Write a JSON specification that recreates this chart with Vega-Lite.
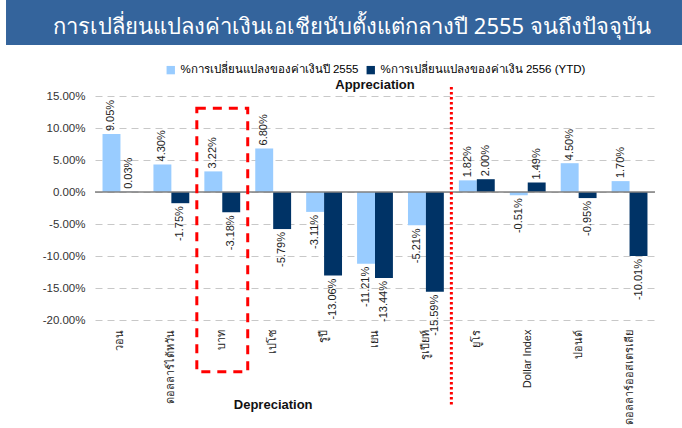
{
  "$schema": "https://vega.github.io/schema/vega-lite/v6.json",
  "background": "white",
  "autosize": "none",
  "width": 560,
  "height": 224,
  "padding": {"left": 95, "top": 96, "right": 27, "bottom": 108},
  "config": {
    "font": "Liberation Sans",
    "view": {"stroke": null},
    "legend": {"layout": {"top": {"anchor": "middle"}}},
    "locale": {"number": {"decimal": ".", "thousands": ",", "grouping": [3], "currency": ["", ""], "minus": "-", "percent": "%"}},
    "axisY": {"tickCount": 8, "domain": false, "ticks": false, "grid": true, "gridDash": [7, 5], "gridColor": "#C8C8C8", "labelFontSize": 11.5, "labelPadding": 10, "labelColor": "#333", "title": null},
    "axisX": {"domain": false, "ticks": false, "grid": false, "labelAngle": -90, "labelFontSize": 11, "labelPadding": 9, "labelColor": "#222", "labelLimit": 200, "title": null}
  },
  "data": {
    "values": [
      {"currency": "วอน", "series": "%การเปลี่ยนแปลงของค่าเงินปี 2555", "value": 0.0905},
      {"currency": "วอน", "series": "%การเปลี่ยนแปลงของค่าเงิน 2556 (YTD)", "value": 0.0003},
      {"currency": "ดอลลาร์ไต้หวัน", "series": "%การเปลี่ยนแปลงของค่าเงินปี 2555", "value": 0.0430},
      {"currency": "ดอลลาร์ไต้หวัน", "series": "%การเปลี่ยนแปลงของค่าเงิน 2556 (YTD)", "value": -0.0175},
      {"currency": "บาท", "series": "%การเปลี่ยนแปลงของค่าเงินปี 2555", "value": 0.0322},
      {"currency": "บาท", "series": "%การเปลี่ยนแปลงของค่าเงิน 2556 (YTD)", "value": -0.0318},
      {"currency": "เปโซ", "series": "%การเปลี่ยนแปลงของค่าเงินปี 2555", "value": 0.0680},
      {"currency": "เปโซ", "series": "%การเปลี่ยนแปลงของค่าเงิน 2556 (YTD)", "value": -0.0579},
      {"currency": "รูปี", "series": "%การเปลี่ยนแปลงของค่าเงินปี 2555", "value": -0.0311},
      {"currency": "รูปี", "series": "%การเปลี่ยนแปลงของค่าเงิน 2556 (YTD)", "value": -0.1306},
      {"currency": "เยน", "series": "%การเปลี่ยนแปลงของค่าเงินปี 2555", "value": -0.1121},
      {"currency": "เยน", "series": "%การเปลี่ยนแปลงของค่าเงิน 2556 (YTD)", "value": -0.1344},
      {"currency": "รูเปียห์", "series": "%การเปลี่ยนแปลงของค่าเงินปี 2555", "value": -0.0521},
      {"currency": "รูเปียห์", "series": "%การเปลี่ยนแปลงของค่าเงิน 2556 (YTD)", "value": -0.1559},
      {"currency": "ยูโร", "series": "%การเปลี่ยนแปลงของค่าเงินปี 2555", "value": 0.0182},
      {"currency": "ยูโร", "series": "%การเปลี่ยนแปลงของค่าเงิน 2556 (YTD)", "value": 0.0200},
      {"currency": "Dollar Index", "series": "%การเปลี่ยนแปลงของค่าเงินปี 2555", "value": -0.0051},
      {"currency": "Dollar Index", "series": "%การเปลี่ยนแปลงของค่าเงิน 2556 (YTD)", "value": 0.0149},
      {"currency": "ปอนด์", "series": "%การเปลี่ยนแปลงของค่าเงินปี 2555", "value": 0.0450},
      {"currency": "ปอนด์", "series": "%การเปลี่ยนแปลงของค่าเงิน 2556 (YTD)", "value": -0.0095},
      {"currency": "ดอลลาร์ออสเตรเลีย", "series": "%การเปลี่ยนแปลงของค่าเงินปี 2555", "value": 0.0170},
      {"currency": "ดอลลาร์ออสเตรเลีย", "series": "%การเปลี่ยนแปลงของค่าเงิน 2556 (YTD)", "value": -0.1001}
    ]
  },
  "resolve": {"scale": {"x": "independent"}},
  "layer": [
    {
      "layer": [
        {
          "mark": {"type": "bar"},
          "encoding": {
            "x": {
              "field": "currency", "type": "nominal", "sort": null,
              "scale": {"domain": ["วอน", "ดอลลาร์ไต้หวัน", "บาท", "เปโซ", "รูปี", "เยน", "รูเปียห์", "ยูโร", "Dollar Index", "ปอนด์", "ดอลลาร์ออสเตรเลีย"], "paddingInner": 0, "paddingOuter": 0},
              "axis": {"title": null}
            },
            "y": {
              "field": "value", "type": "quantitative",
              "scale": {"domain": [-0.2, 0.15], "nice": false},
              "axis": {"title": null, "format": ".2%", "tickCount": 8}
            },
            "xOffset": {"field": "series", "sort": null, "scale": {"domain": ["%การเปลี่ยนแปลงของค่าเงินปี 2555", "%การเปลี่ยนแปลงของค่าเงิน 2556 (YTD)"], "paddingOuter": 0.42, "paddingInner": 0}},
            "color": {
              "field": "series", "type": "nominal", "sort": null,
              "scale": {"domain": ["%การเปลี่ยนแปลงของค่าเงินปี 2555", "%การเปลี่ยนแปลงของค่าเงิน 2556 (YTD)"], "range": ["#99CCFF", "#003366"]},
              "legend": {"orient": "top", "title": null, "direction": "horizontal", "symbolType": "square", "symbolSize": 70, "symbolStrokeWidth": 0, "labelFontSize": 11.5, "labelLimit": 300, "columnPadding": 6, "offset": 20}
            }
          }
        },
        {
          "transform": [{"aggregate": [{"op": "count", "as": "n"}]}],
          "mark": {"type": "rule", "color": "#808080", "strokeWidth": 1.5},
          "encoding": {"y": {"datum": 0}}
        },
        {
          "transform": [{"filter": "datum.value >= 0"}],
          "mark": {"type": "text", "angle": 270, "align": "left", "baseline": "middle", "dx": 3, "fontSize": 11, "color": "#222"},
          "encoding": {
            "x": {"field": "currency", "type": "nominal", "sort": null},
            "y": {"field": "value", "type": "quantitative"},
            "xOffset": {"field": "series", "sort": null},
            "text": {"field": "value", "format": ".2%"}
          }
        },
        {
          "transform": [{"filter": "datum.value < 0"}],
          "mark": {"type": "text", "angle": 270, "align": "right", "baseline": "middle", "dx": -3, "fontSize": 11, "color": "#222"},
          "encoding": {
            "x": {"field": "currency", "type": "nominal", "sort": null},
            "y": {"field": "value", "type": "quantitative"},
            "xOffset": {"field": "series", "sort": null},
            "text": {"field": "value", "format": ".2%"}
          }
        },
        {
          "transform": [{"aggregate": [{"op": "count", "as": "n"}]}],
          "mark": {"type": "text", "text": "Appreciation", "fontSize": 13, "fontWeight": "bold", "baseline": "middle", "align": "center", "color": "#111"},
          "encoding": {"x": {"datum": "เยน"}, "y": {"datum": 0.167}}
        },
        {
          "transform": [{"aggregate": [{"op": "count", "as": "n"}]}],
          "mark": {"type": "text", "text": "Depreciation", "fontSize": 13, "fontWeight": "bold", "baseline": "middle", "align": "center", "color": "#111"},
          "encoding": {"x": {"datum": "เปโซ"}, "y": {"datum": -0.333}}
        },
        {
          "transform": [{"aggregate": [{"op": "count", "as": "n"}]}],
          "mark": {"type": "rect", "fill": "transparent", "stroke": "#FF0000", "strokeWidth": 3, "strokeDash": [9, 7]},
          "encoding": {"x": {"datum": "บาท"}, "y": {"datum": 0.131}, "y2": {"datum": -0.281}}
        },
        {
          "transform": [{"aggregate": [{"op": "count", "as": "n"}]}],
          "mark": {"type": "rule", "color": "#FF0000", "strokeWidth": 3, "strokeDash": [2.5, 2.5]},
          "encoding": {"x": {"datum": "ยูโร", "bandPosition": 0}, "y": {"datum": 0.164}, "y2": {"datum": -0.333}}
        }
      ]
    },
    {
      "transform": [{"aggregate": [{"op": "count", "as": "n"}]}],
      "layer": [
        {
          "mark": {"type": "rect", "color": "#34649C"},
          "encoding": {
            "x": {"datum": -0.1589, "type": "quantitative", "scale": {"domain": [0, 1]}, "axis": null},
            "x2": {"datum": 1.0482},
            "y": {"datum": 0.3},
            "y2": {"datum": 0.2297}
          }
        },
        {
          "mark": {"type": "text", "text": "การเปลี่ยนแปลงค่าเงินเอเชียนับตั้งแต่กลางปี 2555 จนถึงปัจจุบัน", "color": "white", "fontSize": 22, "baseline": "middle", "align": "center", "font": "Noto Sans"},
          "encoding": {
            "x": {"datum": 0.459, "type": "quantitative", "scale": {"domain": [0, 1]}, "axis": null},
            "y": {"datum": 0.2578}
          }
        }
      ]
    }
  ]
}
